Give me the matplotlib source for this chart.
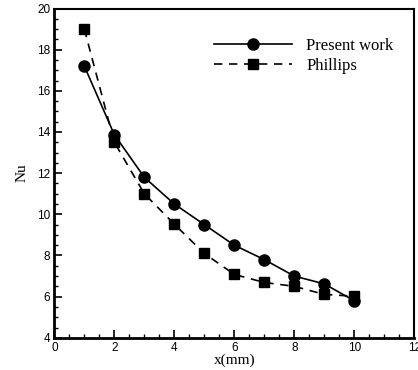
import matplotlib
matplotlib.use("Agg")
import matplotlib.pyplot as plt
from matplotlib.ticker import MultipleLocator

# data
x_mm = [1, 2, 3, 4, 5, 6, 7, 8, 9, 10]
nu_present = [17.2, 13.87, 11.8, 10.5, 9.5, 8.5, 7.8, 7.0, 6.62, 5.8]
nu_phillips = [19.0, 13.5, 11.0, 9.52, 8.1, 7.08, 6.69, 6.5, 6.11, 6.02]

serif = ['Liberation Serif', 'DejaVu Serif']
sans = ['Liberation Sans', 'DejaVu Sans']

fig = plt.figure(figsize=(4.18, 3.70), dpi=100)
ax = fig.add_axes([0.130, 0.087, 0.861, 0.890])

ax.plot(x_mm, nu_present, '-', color='black', lw=1.2, marker='o',
        markersize=8, label='Present work')
ax.plot(x_mm, nu_phillips, '--', color='black', lw=1.2, marker='s',
        markersize=6.5, dashes=(5, 4), label='Phillips')

ax.set_xlim(0, 12)
ax.set_ylim(4, 20)
ax.xaxis.set_major_locator(MultipleLocator(2))
ax.xaxis.set_minor_locator(MultipleLocator(0.5))
ax.yaxis.set_major_locator(MultipleLocator(2))
ax.yaxis.set_minor_locator(MultipleLocator(0.5))
ax.tick_params(which='major', direction='in', length=6, width=1.2,
               labelsize=8.5, pad=3)
ax.tick_params(which='minor', direction='in', length=3, width=1.0)
for lab in ax.get_xticklabels() + ax.get_yticklabels():
    lab.set_family(sans)

for side in ['left', 'bottom']:
    ax.spines[side].set_linewidth(2.0)
for side in ['top', 'right']:
    ax.spines[side].set_linewidth(1.5)

ax.set_xlabel('x(mm)', family=serif, fontsize=11, labelpad=0)
ax.set_ylabel('Nu', family=serif, fontsize=11, labelpad=6)

leg = ax.legend(loc='upper left', bbox_to_anchor=(0.512, 0.897),
                bbox_transform=fig.transFigure, frameon=False,
                prop={'family': serif, 'size': 12}, handlelength=4.7,
                handletextpad=0.84, labelspacing=0.25, borderpad=0,
                borderaxespad=0)

fig.savefig('out.png', dpi=100)
